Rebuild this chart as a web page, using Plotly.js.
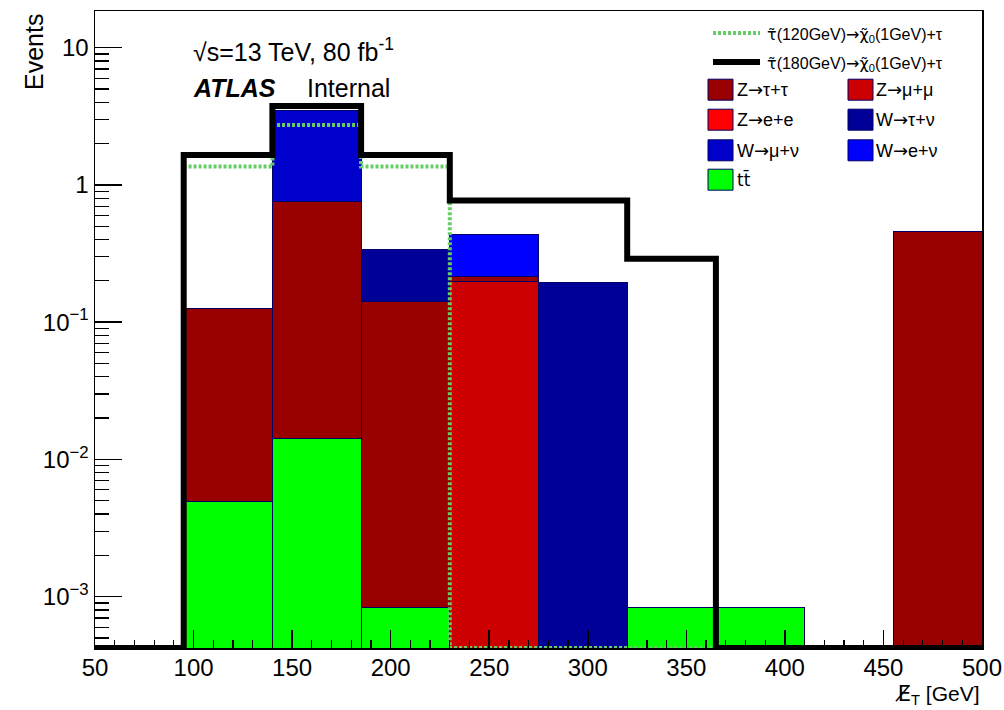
<!DOCTYPE html>
<html>
<head>
<meta charset="utf-8">
<script src="https://cdn.plot.ly/plotly-3.0.1.min.js"></script>
<style>html,body{margin:0;padding:0;background:#fff;}#chart{width:1004px;height:710px;}</style>
</head>
<body>
<div id="chart"></div>
<script>
// ---- data ----
const binEdges = [50, 95, 140, 185, 230, 275, 320, 365, 410, 455, 500];
const ttbar   = [0, 0.0049, 0.0141, 0.00083, 0, 0, 0.00083, 0.00083, 0, 0];
const zmumu   = [0, 0, 0, 0, 0.198, 0, 0, 0, 0, 0];
const ztautau = [0, 0.121, 0.742, 0.140, 0.016, 0, 0, 0, 0, 0.46];
const zee     = [0, 0, 0, 0, 0, 0, 0, 0, 0, 0];
const wtaunu  = [0, 0, 0, 0.199, 0, 0.195, 0, 0, 0, 0];
const wmunu   = [0, 0, 2.72, 0, 0, 0, 0, 0, 0, 0];
const wenu    = [0, 0, 0, 0, 0.224, 0, 0, 0, 0, 0];
const sig120  = [0, 1.36, 2.73, 1.36, 0, 0, 0, 0, 0, 0];
const sig180  = [0, 1.65, 3.76, 1.65, 0.77, 0.77, 0.29, 0, 0, 0];

const yTickVals = [0.001, 0.01, 0.1, 1, 10];
const yTickText = ['10<sup>\u22123</sup>', '10<sup>\u22122</sup>', '10<sup>\u22121</sup>', '1', '10'];

// ---- layout constants ----
const yLogRange = [-3.374, 1.267];
const yFloor = Math.pow(10, yLogRange[0]);
const font = 'Liberation Sans, Arial, Helvetica, sans-serif';
const dv = s => '<span style="font-family:DejaVu Sans">' + s + '</span>';
const ARROW = dv('\u2192');

const centers = binEdges.slice(0, -1).map((e, i) => (e + binEdges[i + 1]) / 2);
const widths = binEdges.slice(0, -1).map((e, i) => binEdges[i + 1] - e);
const nz = a => a.map(v => (v > 0 ? v : null));

function barTrace(vals, color, name) {
  return {
    type: 'bar', x: centers, y: nz(vals), width: widths, name: name,
    marker: {color: color, line: {color: '#000066', width: 1}},
    showlegend: false, hoverinfo: 'skip'
  };
}
function stepTrace(vals, color, width, dash, name) {
  const y = vals.map(v => (v > 0 ? v : yFloor));
  y.push(y[y.length - 1]);
  return {
    type: 'scatter', mode: 'lines', x: binEdges, y: y, name: name,
    line: {shape: 'hv', color: color, width: width, dash: dash},
    showlegend: false, hoverinfo: 'skip', cliponaxis: false
  };
}

const C = {ztt: '#990000', zmm: '#cc0000', zee: '#ff0000', wtn: '#000099', wmn: '#0000cc', wen: '#0000ff', tt: '#00ff00'};

const traces = [
  barTrace(ttbar, C.tt, 'tt'),
  barTrace(zmumu, C.zmm, 'Zmumu'),
  barTrace(ztautau, C.ztt, 'Ztautau'),
  barTrace(zee, C.zee, 'Zee'),
  barTrace(wtaunu, C.wtn, 'Wtaunu'),
  barTrace(wmunu, C.wmn, 'Wmunu'),
  barTrace(wenu, C.wen, 'Wenu'),
  stepTrace(sig120, '#66cc66', 4, '3px,2px', 'sig120'),
  stepTrace(sig180, '#000000', 6, 'solid', 'sig180')
];

// minor ticks on log axis
const yMinor = [];
for (let k = -4; k <= 1; k++) for (let d = 2; d <= 9; d++) yMinor.push(d * Math.pow(10, k));

// legend helpers (paper coords from pixel positions)
const L = 95, R = 982, T = 11, B = 648;
const px = x => (x - L) / (R - L);
const py = y => (B - y) / (B - T);

const shapes = [];
const annotations = [];

function legLine(y, color, width, dash) {
  shapes.push({type: 'line', xref: 'paper', yref: 'paper', x0: px(713), x1: px(760), y0: py(y), y1: py(y),
    line: {color: color, width: width, dash: dash}});
}
function legBox(x, y, color) {
  shapes.push({type: 'rect', xref: 'paper', yref: 'paper', x0: px(x), x1: px(x + 25), y0: py(y + 10.5), y1: py(y - 10.5),
    fillcolor: color, line: {color: '#000066', width: 1}});
}
function legText(x, y, text, size) {
  annotations.push({xref: 'paper', yref: 'paper', x: px(x), y: py(y), xanchor: 'left', yanchor: 'middle',
    text: text, showarrow: false, font: {family: font, size: size, color: '#000'}});
}

const stau = dv('\u03C4\u0303');
const chi = dv('\u03C7\u0303');
legLine(33, '#66cc66', 4, '3px,2px');
legText(765, 35, stau + '(120GeV)' + ARROW + chi + '<sub>0</sub>(1GeV)+\u03C4', 16);
legLine(62, '#000000', 6, 'solid');
legText(765, 64, stau + '(180GeV)' + ARROW + chi + '<sub>0</sub>(1GeV)+\u03C4', 16);

const rows = [89.7, 119.7, 150.3, 179.7];
legBox(708, rows[0], C.ztt); legText(735, rows[0], 'Z' + ARROW + '\u03C4+\u03C4', 18);
legBox(848, rows[0], C.zmm); legText(874, rows[0], 'Z' + ARROW + '\u03BC+\u03BC', 18);
legBox(708, rows[1], C.zee); legText(735, rows[1], 'Z' + ARROW + 'e+e', 18);
legBox(848, rows[1], C.wtn); legText(874, rows[1], 'W' + ARROW + '\u03C4+\u03BD', 18);
legBox(708, rows[2], C.wmn); legText(735, rows[2], 'W' + ARROW + '\u03BC+\u03BD', 18);
legBox(848, rows[2], C.wen); legText(874, rows[2], 'W' + ARROW + 'e+\u03BD', 18);
legBox(708, rows[3], C.tt);  legText(735, rows[3], dv('tt\u0304'), 17);

// labels
annotations.push({xref: 'paper', yref: 'paper', x: px(191), y: py(50), xanchor: 'left', yanchor: 'middle',
  text: '\u221As=13 TeV, 80 fb<sup>-1</sup>', showarrow: false, font: {family: font, size: 25, color: '#000'}});
annotations.push({xref: 'paper', yref: 'paper', x: px(191), y: py(88), xanchor: 'left', yanchor: 'middle',
  text: '<b><i>ATLAS</i></b>', showarrow: false, font: {family: font, size: 25, color: '#000'}});
annotations.push({xref: 'paper', yref: 'paper', x: px(305), y: py(88), xanchor: 'left', yanchor: 'middle',
  text: 'Internal', showarrow: false, font: {family: font, size: 25, color: '#000'}});
annotations.push({xref: 'paper', yref: 'paper', x: px(982), y: py(695), xanchor: 'right', yanchor: 'middle',
  text: dv('E\u0338') + '<sub>T</sub> [GeV]', showarrow: false, font: {family: font, size: 21, color: '#000'}});
annotations.push({xref: 'paper', yref: 'paper', x: px(34), y: py(12), xanchor: 'center', yanchor: 'top', textangle: -90,
  text: 'Events', showarrow: false, font: {family: font, size: 25, color: '#000'}});

const layout = {
  width: 1004, height: 710,
  margin: {l: L, r: 1004 - R, t: T, b: 710 - B, pad: 0},
  paper_bgcolor: '#fff', plot_bgcolor: '#fff',
  barmode: 'stack', bargap: 0,
  showlegend: false,
  xaxis: {
    range: [binEdges[0], binEdges[binEdges.length - 1]],
    showline: true, linecolor: '#000', linewidth: 1.5, mirror: true,
    ticks: 'inside', ticklen: 18, tickwidth: 1.5, tickcolor: '#000',
    tick0: 50, dtick: 50, showgrid: false, zeroline: false,
    minor: {ticks: 'inside', ticklen: 8, tickwidth: 1.2, tickcolor: '#000', dtick: 10, tick0: 50, showgrid: false},
    tickfont: {family: font, size: 24, color: '#000'}, ticklabelstandoff: -2
  },
  yaxis: {
    type: 'log', range: yLogRange,
    showline: true, linecolor: '#000', linewidth: 1.5, mirror: true,
    ticks: 'inside', ticklen: 27, tickwidth: 1.5, tickcolor: '#000',
    tickmode: 'array', tickvals: yTickVals, ticktext: yTickText,
    minor: {ticks: 'inside', ticklen: 14, tickwidth: 1.2, tickcolor: '#000', tickmode: 'array', tickvals: yMinor, showgrid: false},
    showgrid: false, zeroline: false,
    tickfont: {family: font, size: 24, color: '#000'}
  },
  shapes: shapes,
  annotations: annotations
};

Plotly.newPlot('chart', traces, layout, {displayModeBar: false, staticPlot: true});
</script>
</body>
</html>
